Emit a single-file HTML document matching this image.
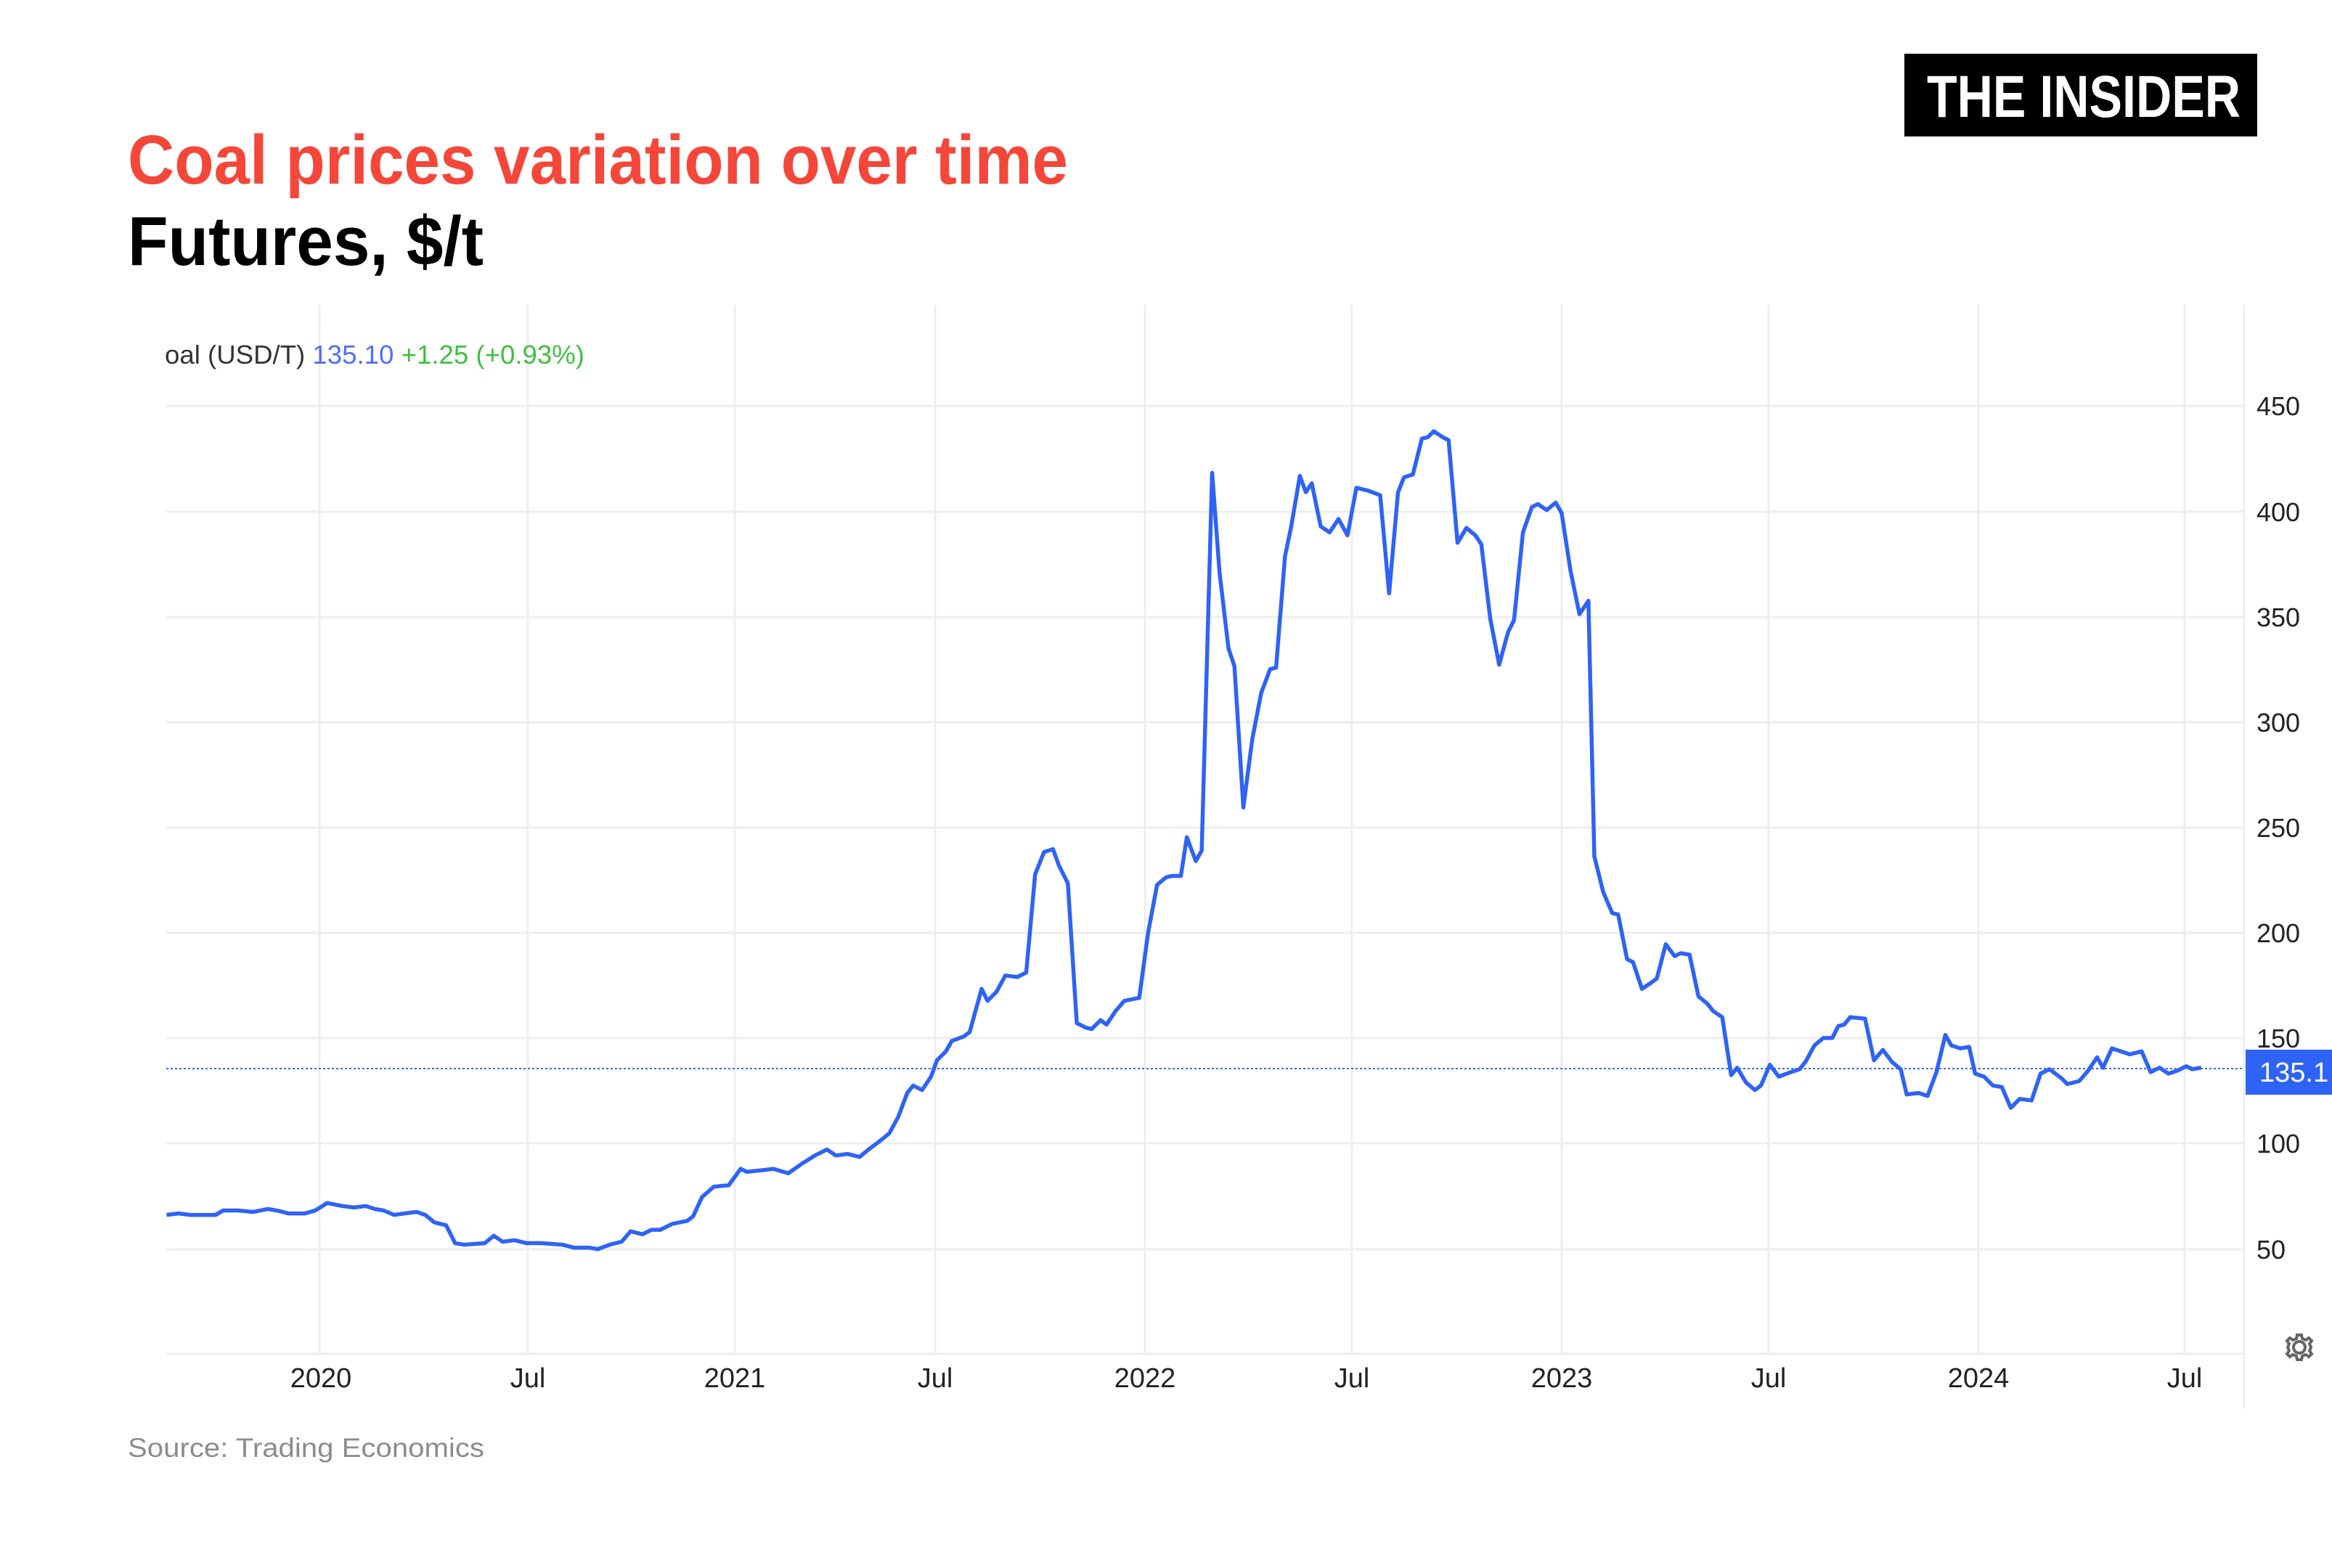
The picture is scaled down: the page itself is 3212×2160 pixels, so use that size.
<!DOCTYPE html>
<html><head><meta charset="utf-8"><style>html,body{margin:0;padding:0;background:#fff}svg{display:block}</style></head>
<body>
<svg width="3212" height="2160" viewBox="0 0 3212 2160" xmlns="http://www.w3.org/2000/svg" font-family="Liberation Sans, sans-serif">
<rect width="3212" height="2160" fill="#fff"/>
<text x="176" y="253" font-size="96" font-weight="bold" fill="#f4473a" textLength="1295" lengthAdjust="spacingAndGlyphs">Coal prices variation over time</text>
<text x="176" y="365" font-size="96" font-weight="bold" fill="#000" textLength="490" lengthAdjust="spacingAndGlyphs">Futures, $/t</text>
<rect x="2623" y="74" width="486" height="114" fill="#000"/>
<text x="2654" y="161" font-size="82" font-weight="bold" fill="#fff" textLength="432" lengthAdjust="spacingAndGlyphs">THE INSIDER</text>
<g stroke="#eceef2" stroke-width="3">
<line x1="440" y1="420" x2="440" y2="1865"/><line x1="727" y1="420" x2="727" y2="1865"/><line x1="1012" y1="420" x2="1012" y2="1865"/><line x1="1288" y1="420" x2="1288" y2="1865"/><line x1="1577" y1="420" x2="1577" y2="1865"/><line x1="1862" y1="420" x2="1862" y2="1865"/><line x1="2151" y1="420" x2="2151" y2="1865"/><line x1="2436" y1="420" x2="2436" y2="1865"/><line x1="2725" y1="420" x2="2725" y2="1865"/><line x1="3009" y1="420" x2="3009" y2="1865"/>
<line x1="3091" y1="420" x2="3091" y2="1940"/>
<line x1="229" y1="559" x2="3091" y2="559"/><line x1="229" y1="705" x2="3091" y2="705"/><line x1="229" y1="850" x2="3091" y2="850"/><line x1="229" y1="995" x2="3091" y2="995"/><line x1="229" y1="1140" x2="3091" y2="1140"/><line x1="229" y1="1285" x2="3091" y2="1285"/><line x1="229" y1="1430" x2="3091" y2="1430"/><line x1="229" y1="1575" x2="3091" y2="1575"/><line x1="229" y1="1721" x2="3091" y2="1721"/>
<line x1="229" y1="1865" x2="3091" y2="1865"/>
</g>
<g font-size="36" fill="#222">
<text x="3108" y="572">450</text><text x="3108" y="718">400</text><text x="3108" y="863">350</text><text x="3108" y="1008">300</text><text x="3108" y="1153">250</text><text x="3108" y="1298">200</text><text x="3108" y="1443">150</text><text x="3108" y="1588">100</text><text x="3108" y="1734">50</text>
</g>
<g font-size="38" fill="#222" text-anchor="middle">
<text x="442" y="1911">2020</text><text x="727" y="1911">Jul</text><text x="1012" y="1911">2021</text><text x="1288" y="1911">Jul</text><text x="1577" y="1911">2022</text><text x="1862" y="1911">Jul</text><text x="2151" y="1911">2023</text><text x="2436" y="1911">Jul</text><text x="2725" y="1911">2024</text><text x="3009" y="1911">Jul</text>
</g>
<text x="227" y="501" font-size="36" textLength="578" lengthAdjust="spacingAndGlyphs"><tspan fill="#333">oal (USD/T) </tspan><tspan fill="#4f6ef5">135.10 </tspan><tspan fill="#3fbf3f">  +1.25 (+0.93%)</tspan></text>
<line x1="229" y1="1472" x2="3091" y2="1472" stroke="#3a66f5" stroke-width="2" stroke-dasharray="3,3"/>
<g transform="scale(2.0485)">
<polyline fill="none" stroke="#2f63f5" stroke-width="5.5" vector-effect="non-scaling-stroke" stroke-linejoin="round" points="112,817 120,816 128,817 145,817 150,814 160,814 170,815 180,813 186,814 194,816 205,816 212,814 220,809 230,811 238,812 246,811 252,813 258,814 265,817 272,816 280,815 286,817 292,822 300,824 306,836 312,837 326,836 332,831 338,835 346,834 354,836 364,836 378,837 386,839 396,839 402,840 410,837 418,835 424,828 432,830 438,827 444,827 452,823 462,821 466,818 472,805 480,798 490,797 498,786 502,788 512,787 520,786 530,789 540,782 548,777 556,773 562,777 570,776 578,778 584,773 592,767 598,762 604,751 610,735 614,730 620,733 626,724 630,713 636,707 640,700 648,697 652,694 660,665 664,673 670,667 676,656 684,657 690,654 696,588 702,573 708,571 712,582 718,594 724,688 730,691 734,692 740,686 744,689 750,680 756,673 766,671 772,627 778,595 784,590 788,589 794,589 798,563 804,579 808,572 815,318 820,385 826,436 830,448 836,543 842,497 848,466 854,450 858,449 864,374 868,355 874,320 878,331 882,325 888,354 894,358 900,349 906,360 912,328 920,330 928,333 934,399 940,331 944,321 950,319 956,295 960,294 964,290 970,294 974,296 980,365 986,355 992,360 996,366 1002,416 1008,447 1014,425 1018,417 1024,358 1030,341 1034,339 1040,343 1046,338 1050,345 1056,384 1062,413 1068,404 1072,576 1078,600 1084,614 1088,615 1094,645 1098,647 1104,665 1110,661 1114,658 1120,635 1126,643 1130,641 1136,642 1142,670 1148,675 1152,680 1158,684 1164,723 1168,718 1174,728 1180,733 1184,730 1190,716 1196,724 1204,721 1210,719 1214,714 1220,703 1226,698 1232,698 1236,690 1240,689 1244,684 1254,685 1260,713 1266,706 1272,714 1278,719 1282,736 1290,735 1296,737 1302,721 1308,696 1312,703 1318,705 1324,704 1328,722 1334,724 1340,730 1346,731 1352,745 1358,739 1366,740 1372,722 1378,719 1386,725 1390,729 1398,727 1404,720 1410,711 1414,718 1420,705 1426,707 1432,709 1440,707 1446,721 1452,718 1458,722 1464,720 1470,717 1474,719 1480,718"/>
</g>
<rect x="3093" y="1446" width="119" height="62" fill="#2f63f5"/>
<text x="3112" y="1490" font-size="38" fill="#fff">135.1</text>
<g transform="translate(3167,1856)" fill="none" stroke="#666" stroke-width="4">
<circle r="8"/>
<path d="M-3,-17 L3,-17 L4,-12 L9,-10 L13,-13 L17,-9 L14,-5 L16,0 L14,5 L17,9 L13,13 L9,10 L4,12 L3,17 L-3,17 L-4,12 L-9,10 L-13,13 L-17,9 L-14,5 L-16,0 L-14,-5 L-17,-9 L-13,-13 L-9,-10 L-4,-12 Z"/>
</g>
<text x="176" y="2007" font-size="37" fill="#8c8c8c" textLength="491" lengthAdjust="spacingAndGlyphs">Source: Trading Economics</text>
</svg>
</body></html>
